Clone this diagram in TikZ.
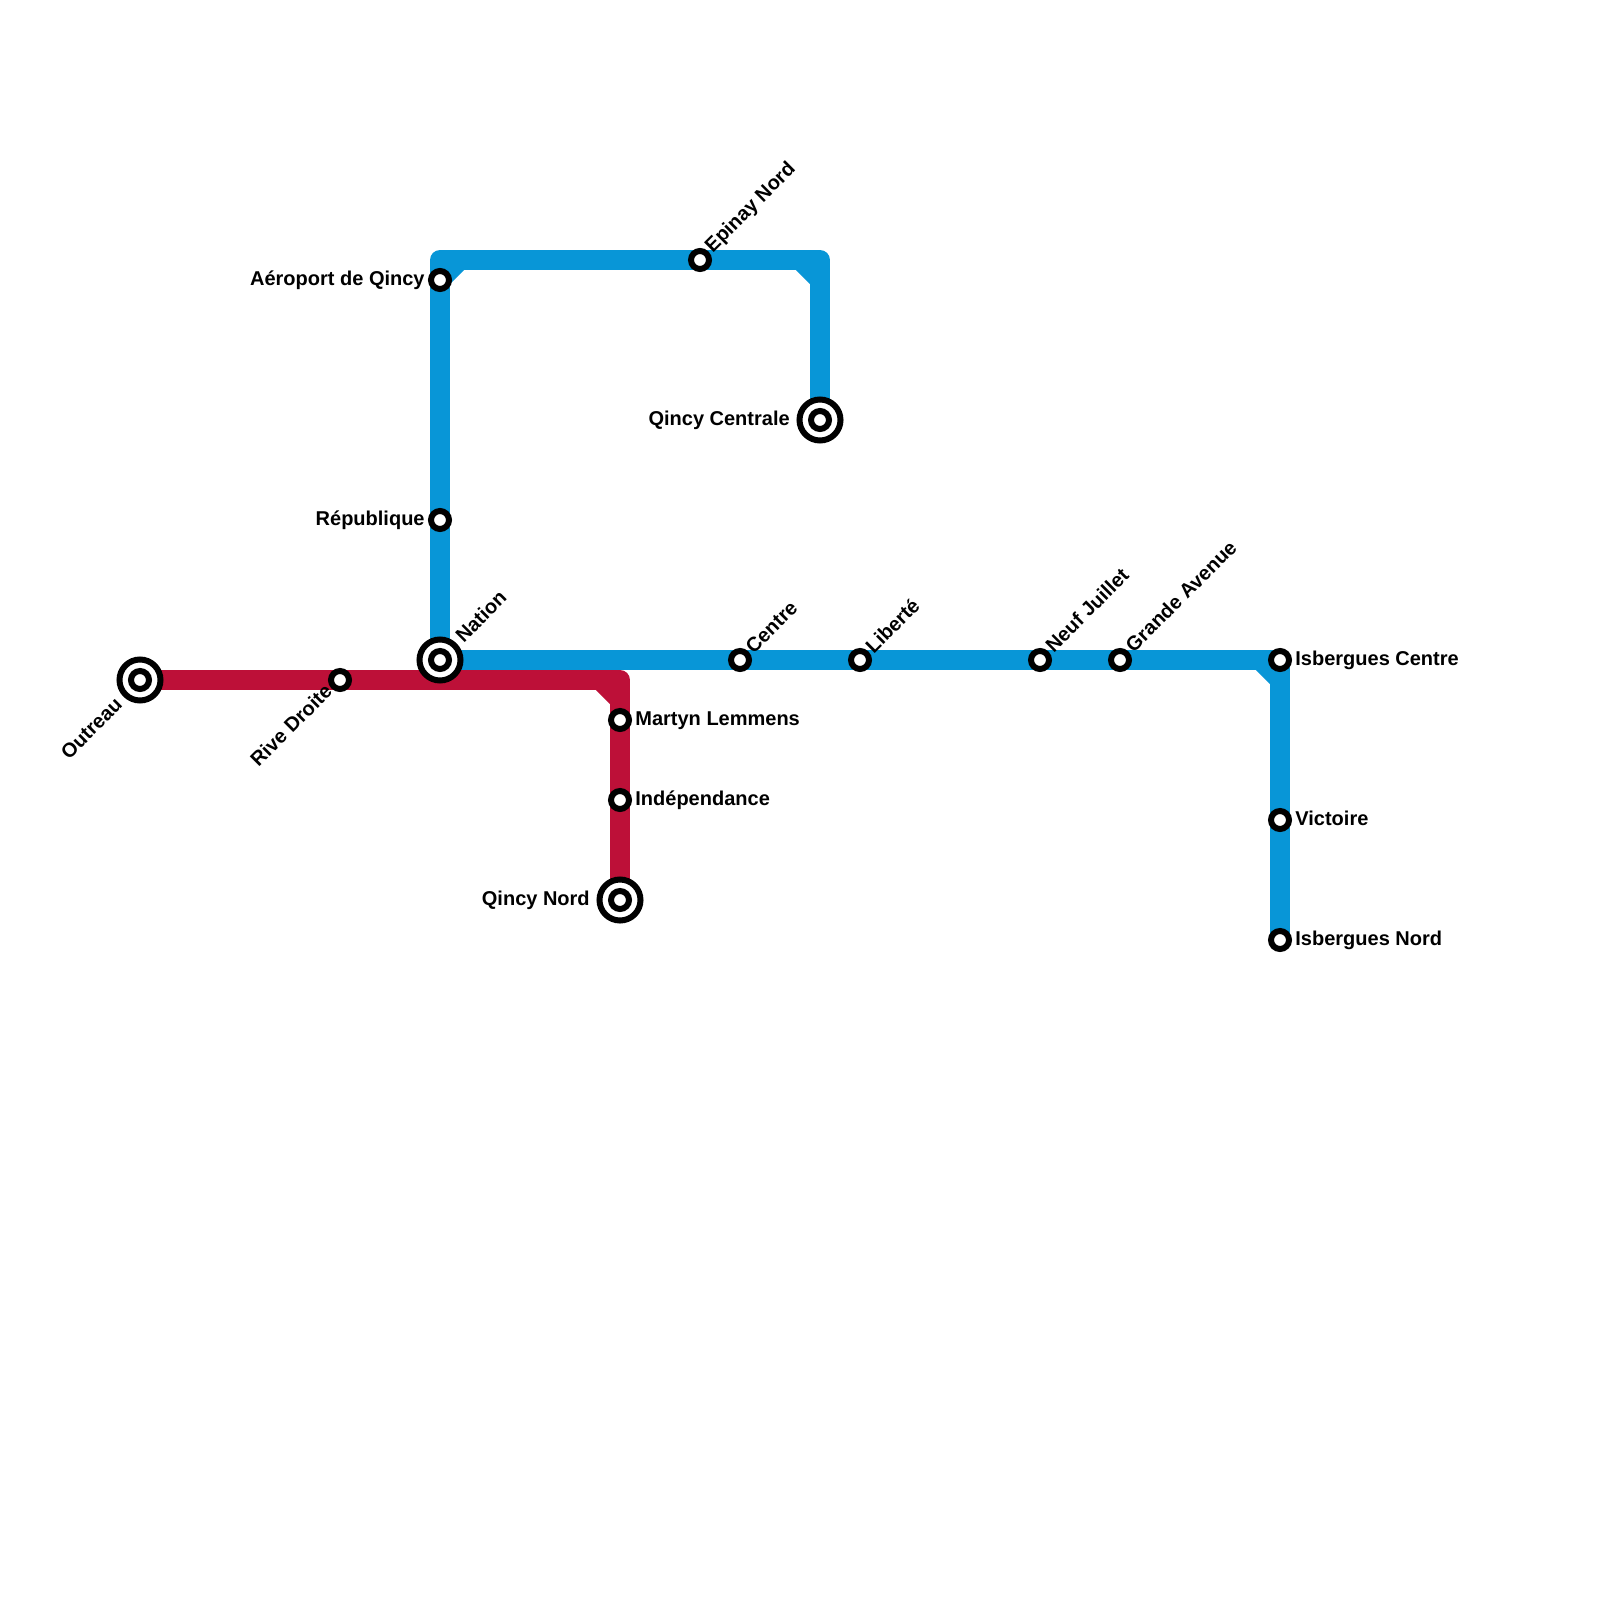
\documentclass[tikz,border=0pt]{standalone}
\usepackage{fontspec}
\setmainfont{Liberation Sans}
\usepackage{xcolor}
\usetikzlibrary{positioning,backgrounds}
\definecolor{lineblue}{RGB}{8,150,215}
\definecolor{linered}{RGB}{189,16,56}
\begin{document}
\begin{tikzpicture}[
		x=0.5pt, y=-0.5pt,
		track/.style={line width=10pt, line join=round},
		halt/.style={circle, draw=black, fill=white, line width=3pt, minimum size=9pt, inner sep=0pt},
		hub/.style={circle, draw=black, fill=white, line width=3pt, minimum size=20.5pt, inner sep=0pt},
		lbl/.style={font=\bfseries\fontsize{10}{12}\selectfont, inner sep=0pt, text=black, text height=7.2pt, text depth=2.1pt},
		diag/.style={lbl, rotate=45, anchor=west},
		diagl/.style={lbl, rotate=45, anchor=east}]
		\useasboundingbox (0,0) rectangle (1600,1600);
		% interchanges
		\node[hub] (outreauhub) at (140,680) {};
		\node[hub] (nationhub) at (440,660) {};
		\node[hub] (centralehub) at (820,420) {};
		\node[hub] (qnordhub) at (620,900) {};
		\node[halt] (outreau) at (140,680) {};
		\node[halt] (nation) at (440,660) {};
		\node[halt] (centrale) at (820,420) {};
		\node[halt] (qnord) at (620,900) {};
		% plain stops
		\node[halt] (rive) at (340,680) {};
		\node[halt] (aeroport) at (440,280) {};
		\node[halt] (republique) at (440,520) {};
		\node[halt] (epinay) at (700,260) {};
		\node[halt] (centre) at (740,660) {};
		\node[halt] (liberte) at (860,660) {};
		\node[halt] (juillet) at (1040,660) {};
		\node[halt] (grande) at (1120,660) {};
		\node[halt] (isbcentre) at (1280,660) {};
		\node[halt] (victoire) at (1280,820) {};
		\node[halt] (isbnord) at (1280,940) {};
		\node[halt] (martyn) at (620,720) {};
		\node[halt] (indep) at (620,800) {};
		% bends
		\coordinate (topleft) at (440,260);
		\coordinate (topright) at (820,260);
		\coordinate (redbend) at (620,680);
		\coordinate (cutnw) at (460,260);
		\coordinate (cutne) at (800,260);
		\coordinate (cutnedown) at (820,280);
		\coordinate (cutblue) at (1260,660);
		\coordinate (cutbluedown) at (1280,680);
		\coordinate (cutred) at (600,680);
		\coordinate (cutreddown) at (620,700);
		\begin{scope}[on background layer]
			\draw[track, lineblue] (nation.center) -- (topleft) -- (topright) -- (centrale.center);
			\draw[track, lineblue] (nation.center) -- (isbcentre.center) -- (isbnord.center);
			\draw[track, lineblue] (aeroport.center) -- (cutnw);
			\draw[track, lineblue] (cutne) -- (cutnedown);
			\draw[track, lineblue] (cutblue) -- (cutbluedown);
			\draw[track, linered] (outreau.center) -- (redbend) -- (qnord.center);
			\draw[track, linered] (cutred) -- (cutreddown);
		\end{scope}
		% labels
		\node[lbl, left=1.5pt of aeroport] (aeroportname) {Aéroport de Qincy};
		\node[lbl, left=1.5pt of republique] (republiquename) {République};
		\node[lbl, left=3.2pt of centralehub] (centralename) {Qincy Centrale};
		\node[lbl, left=3.2pt of qnordhub] (qnordname) {Qincy Nord};
		\node[lbl, right=1.5pt of martyn] (martynname) {Martyn Lemmens};
		\node[lbl, right=1.5pt of indep] (indepname) {Indépendance};
		\node[lbl, right=1.5pt of isbcentre] (isbcentrename) {Isbergues Centre};
		\node[lbl, right=1.5pt of victoire] (victoirename) {Victoire};
		\node[lbl, right=1.5pt of isbnord] (isbnordname) {Isbergues Nord};
		\node[diag] (nationname) at ([shift={(20,-20)}]nation) {Nation};
		\node[diag] (epinayname) at ([shift={(9,-10)}]epinay) {Epinay Nord};
		\node[diag] (centrename) at ([shift={(10,-9)}]centre) {Centre};
		\node[diag] (libertename) at ([shift={(10,-9)}]liberte) {Liberté};
		\node[diag] (juilletname) at ([shift={(10,-10)}]juillet) {Neuf Juillet};
		\node[diag] (grandename) at ([shift={(10,-10)}]grande) {Grande Avenue};
		\node[diagl] (outreauname) at ([shift={(-20,22)}]outreau) {Outreau};
		\node[diagl] (rivename) at ([shift={(-10,9)}]rive) {Rive Droite};
	\end{tikzpicture}
\end{document}
